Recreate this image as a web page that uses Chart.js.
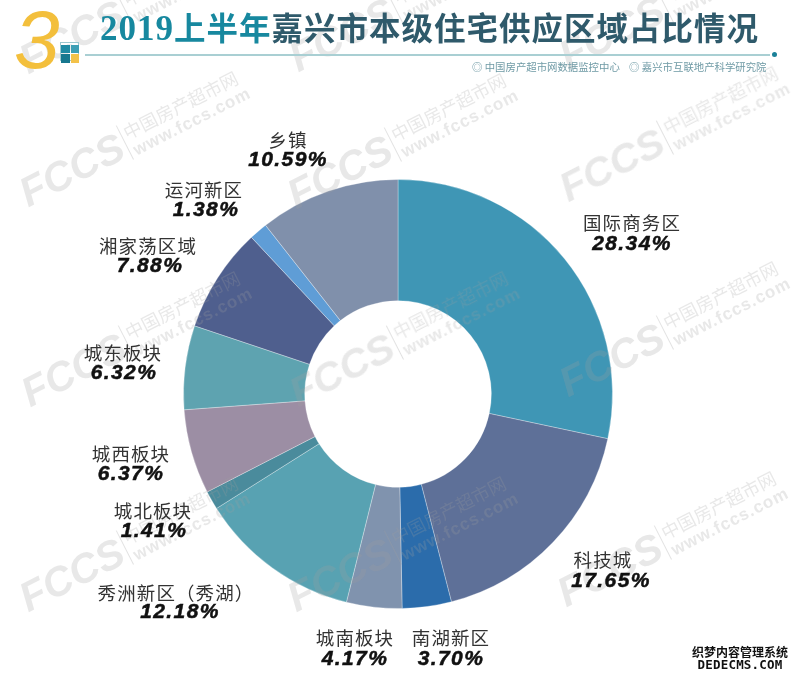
<!DOCTYPE html>
<html lang="zh-CN">
<head>
<meta charset="utf-8">
<title>2019上半年嘉兴市本级住宅供应区域占比情况</title>
<script src="https://cdn.jsdelivr.net/npm/chart.js@4/dist/chart.umd.min.js"></script>
<style>
  html, body { margin: 0; padding: 0; background: #fff; }
  #page { position: relative; width: 800px; height: 680px; overflow: hidden; background: #fff; font-family: "Noto Sans CJK SC", sans-serif; }
  #chart { position: absolute; left: 0; top: 0; }
  .abs { position: absolute; white-space: nowrap; }
  #num { left: 14px; top: -2px; font: italic 400 82px "Liberation Sans", sans-serif; color: #f3bf3c; line-height: 84px; }
  #title { left: 100px; top: 5px; font-size: 31.5px; font-weight: 700; line-height: 42px; color: #2f5a6b; letter-spacing: 1px; }
  #title b { color: #17889f; font-weight: 700; }
  #title .yr { font-family: "Liberation Serif", serif; font-size: 35px; }
  #rule { left: 85px; top: 54px; width: 685px; height: 2px; background: #a9cfd3; }
  #dot { left: 772px; top: 52px; width: 5px; height: 5px; border-radius: 50%; background: #1b8199; }
  #src { left: 472px; top: 60px; font-size: 10.4px; line-height: 14px; color: #6f9aa5; }
  .sq { position: absolute; }
  .name { transform: translate(-50%, -50%); font-size: 18.5px; line-height: 22px; letter-spacing: 1.1px; color: #333; }
  .val { transform: translate(-50%, -50%); font: italic 700 21px/22px "Liberation Sans", sans-serif; letter-spacing: 1.4px; color: #111; -webkit-text-stroke: 0.5px #111; }
  .wm { position: absolute; transform: rotate(-27deg); transform-origin: left center; color: rgba(160,160,160,0.24); white-space: nowrap; pointer-events: none; }
  .wm .logo { position: absolute; left: 0; top: -24px; font: italic 700 41px/48px "Liberation Sans", sans-serif; }
  .wm .bar { position: absolute; left: 115px; top: -19px; width: 1px; height: 38px; background: rgba(160,160,160,0.3); }
  .wm .zh { position: absolute; left: 119px; top: -20px; font-size: 18px; line-height: 22px; }
  .wm .en { position: absolute; left: 120px; top: 2px; font: 700 17px/20px "Liberation Sans", sans-serif; letter-spacing: 1px; }
  #dede { left: 690px; top: 645px; width: 100px; text-align: center; font-weight: 700; color: #111; text-shadow: 0 0 2px #fff; }
  #dede div { font-size: 12px; line-height: 13px; }
  #dede .en { font: 700 12.5px/13px "DejaVu Sans Mono", monospace; letter-spacing: 0.2px; }
</style>
</head>
<body>
<div id="page">
  <canvas id="chart" width="800" height="680"></canvas>
  <div class="abs" id="num">3</div>
  <div class="sq" style="left:60px;top:42px;width:17px;height:17px;border:1px solid #9cc8d0"></div>
  <div class="sq" style="left:61px;top:45px;width:9px;height:8px;background:#1f8aa3"></div>
  <div class="sq" style="left:71px;top:45px;width:8px;height:8px;background:#3d9fb5"></div>
  <div class="sq" style="left:61px;top:54px;width:9px;height:9px;background:#17788f"></div>
  <div class="sq" style="left:71px;top:54px;width:8px;height:9px;background:#f3c24a"></div>
  <div class="abs" id="title"><b><span class="yr">2019</span>上半年</b>嘉兴市本级住宅供应区域占比情况</div>
  <div class="abs" id="rule"></div>
  <div class="abs" id="dot"></div>
  <div class="abs" id="src">◎ 中国房产超市网数据监控中心 &nbsp;&nbsp; ◎ 嘉兴市互联地产科学研究院</div>
  <div class="abs" id="dede"><div>织梦内容管理系统</div><div class="en">DEDECMS.COM</div></div>
</div>
<script>
const categories = ['国际商务区', '科技城', '南湖新区', '城南板块', '秀洲新区（秀湖）', '城北板块', '城西板块', '城东板块', '湘家荡区域', '运河新区', '乡镇'];
const shares = [28.34, 17.65, 3.70, 4.17, 12.18, 1.41, 6.37, 6.32, 7.88, 1.38, 10.59];
const sliceColors = ['#3f96b5', '#5e7098', '#2b6cab', '#8093ae', '#58a2b2', '#4a8b9c', '#9c8ea4', '#5ea3b0', '#4f5f8e', '#5f9dd6', '#8090ab'];

// 标签位置 (中心点 x, 名称 y, 百分比 x, 百分比 y)
const labelSpots = [
  [632, 222, 632, 243], [603, 559, 611, 580], [451, 637, 451, 658], [355, 637, 355, 658],
  [176, 592, 180, 611], [153, 510, 154, 530], [131, 453, 131, 473], [123, 352, 124, 372],
  [148, 245, 150, 265], [204, 189, 206, 209], [288, 139, 288, 159],
];
const watermarkSpots = [
  [22, 62], [292, 60], [562, 58],
  [22, 195], [290, 197], [562, 190],
  [24, 395], [292, 395], [562, 385],
  [22, 600], [290, 600], [560, 595],
];

const page = document.getElementById('page');

// eslint-disable-next-line no-undef
new Chart(document.getElementById('chart'), {
  type: 'doughnut',
  data: {
    labels: categories,
    datasets: [{
      data: shares,
      backgroundColor: sliceColors,
      borderColor: 'rgba(255,255,255,0.3)',
      borderWidth: 1,
      hoverOffset: 0,
    }],
  },
  options: {
    responsive: false,
    animation: false,
    cutout: '43.5%',
    layout: { padding: { left: 183, right: 187, top: 179, bottom: 71 } },
    plugins: { legend: { display: false }, tooltip: { enabled: false } },
  },
});

categories.forEach((name, i) => {
  const spot = labelSpots[i];
  const n = document.createElement('div');
  n.className = 'abs name';
  n.style.left = `${spot[0]}px`;
  n.style.top = `${spot[1]}px`;
  n.textContent = name;
  page.appendChild(n);
  const v = document.createElement('div');
  v.className = 'abs val';
  v.style.left = `${spot[2]}px`;
  v.style.top = `${spot[3]}px`;
  v.textContent = `${shares[i].toFixed(2)}%`;
  page.appendChild(v);
});

watermarkSpots.forEach(([x, y]) => {
  const w = document.createElement('div');
  w.className = 'wm';
  w.style.left = `${x}px`;
  w.style.top = `${y}px`;
  w.innerHTML = '<span class="logo">FCCS</span><span class="bar"></span><span class="zh">中国房产超市网</span><span class="en">www.fccs.com</span>';
  page.insertBefore(w, page.querySelector('#num'));
});
</script>
</body>
</html>
